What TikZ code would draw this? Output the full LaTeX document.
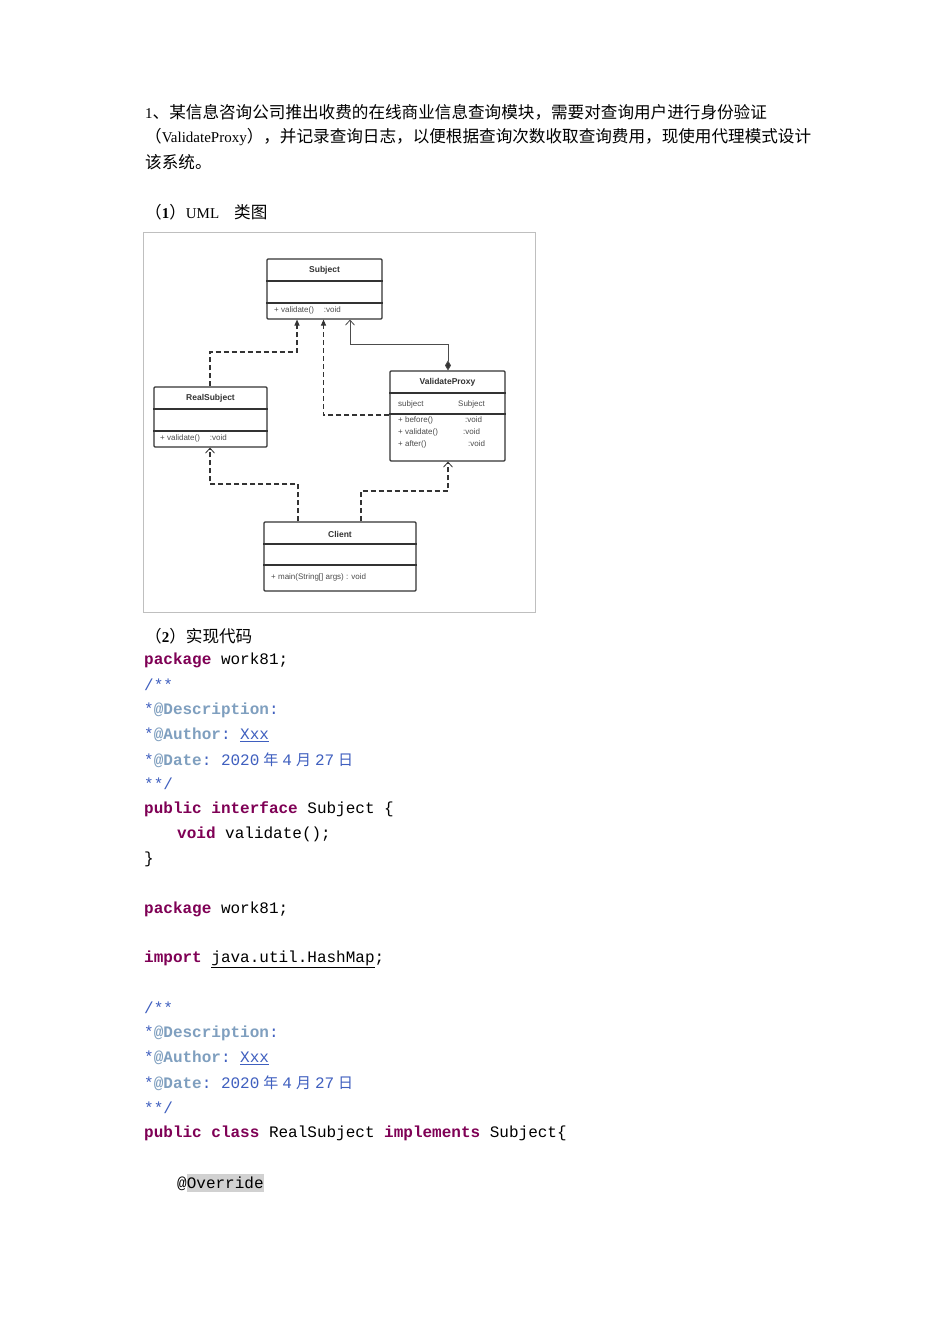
\documentclass[tikz,border=0pt]{standalone}
\usepackage{fontspec}
\setmainfont{Liberation Serif}
\setmonofont{Liberation Mono}
\newfontfamily\cjk{Noto Sans CJK SC}
\newfontfamily\umlfont{Liberation Sans}
\usetikzlibrary{arrows.meta,calc}
\definecolor{kw}{HTML}{7F0055}
\definecolor{jdoc}{HTML}{3F5FBF}
\definecolor{jtag}{HTML}{7F9FBF}
\newcommand{\kw}[1]{{\bfseries\color{kw}#1}}
\newcommand{\tg}[1]{{\bfseries\color{jtag}#1}}
\newcommand{\ulink}[1]{\underline{#1}}
\newcommand{\cj}[1]{\hspace{4pt}{\cjk\fontsize{15}{15}\selectfont #1}\hspace{4pt}}
\tikzset{
  txt/.style={anchor=west,inner sep=0pt,font=\fontsize{15}{15}\selectfont},
  code/.style={anchor=west,inner sep=0pt,font=\ttfamily\fontsize{16}{16}\selectfont},
  umlbox/.style={draw=black!80,line width=1.1pt,rounded corners=1pt,inner sep=0pt},
  umltxt/.style={anchor=west,inner sep=0pt,font=\umlfont\fontsize{8}{8}\selectfont,text=black!70},
  umlhead/.style={inner sep=0pt,font=\umlfont\bfseries\fontsize{8.5}{8.5}\selectfont,text=black!80},
  rel/.style={draw=black!80,line width=1.1pt,dash pattern=on 5pt off 3pt},
  openhead/.style={-{Straight Barb[length=5pt,width=9pt,line width=0.8pt]}},
  fullhead/.style={-{Triangle[length=6pt,width=5pt]}}
}
\begin{document}
\begin{tikzpicture}[x=1pt,y=-1pt]
 \useasboundingbox[fill=white] (0,0) rectangle (950,1344);

 % task text
 \node[txt] at (145,112) {1{\cjk\fontsize{16.6}{16.6}\selectfont 、某信息咨询公司推出收费的在线商业信息查询模块，需要对查询用户进行身份验证}};
 \node[txt] at (145,137) {{\cjk\fontsize{16.6}{16.6}\selectfont （}ValidateProxy{\cjk\fontsize{16.6}{16.6}\selectfont ），并记录查询日志，以便根据查询次数收取查询费用，现使用代理模式设计}};
 \node[txt] at (145,162) {{\cjk\fontsize{16.6}{16.6}\selectfont 该系统。}};
 \node[txt] at (145,212) {{\cjk\fontsize{16.6}{16.6}\selectfont （}\textbf{1}{\cjk\fontsize{16.6}{16.6}\selectfont ）}UML\quad{\cjk\fontsize{16.6}{16.6}\selectfont 类图}};

 % uml frame
 \draw[black!25,line width=1pt] (143,232) rectangle (535,612);

 % classes
 \node[umlbox,minimum width=115pt,minimum height=60pt] (subj) at (324.5,289) {};
 \node[umlbox,minimum width=113pt,minimum height=60pt] (real) at (210.5,417) {};
 \node[umlbox,minimum width=115pt,minimum height=90pt] (proxy) at (447.5,416) {};
 \node[umlbox,minimum width=152pt,minimum height=69pt] (client) at (340,556.5) {};

 \draw[black!80,line width=1.1pt] (subj.west|-0,281) -- (subj.east|-0,281) (subj.west|-0,303) -- (subj.east|-0,303);
 \draw[black!80,line width=1.1pt] (real.west|-0,409) -- (real.east|-0,409) (real.west|-0,431) -- (real.east|-0,431);
 \draw[black!80,line width=1.1pt] (proxy.west|-0,393) -- (proxy.east|-0,393) (proxy.west|-0,414) -- (proxy.east|-0,414);
 \draw[black!80,line width=1.1pt] (client.west|-0,544) -- (client.east|-0,544) (client.west|-0,565) -- (client.east|-0,565);

 \node[umlhead] (subjname) at (324.5,270) {Subject};
 \node[umltxt] (subjop) at (274,310) {+ validate()\hspace{10pt}:void};
 \node[umlhead] (realname) at (210.5,398) {RealSubject};
 \node[umltxt] (realop) at (160,438) {+ validate()\hspace{10pt}:void};
 \node[umlhead] (proxyname) at (447.5,382) {ValidateProxy};
 \node[umltxt] (proxyattr) at (398,404) {subject};
 \node[umltxt] (proxytype) at (458,404) {Subject};
 \node[umltxt] (proxyop1) at (398,420) {+ before()};
 \node[umltxt] (proxyop2) at (398,432) {+ validate()};
 \node[umltxt] (proxyop3) at (398,444) {+ after()};
 \node[umltxt] (proxyv1) at (465,420) {:void};
 \node[umltxt] (proxyv2) at (463,432) {:void};
 \node[umltxt] (proxyv3) at (468,444) {:void};
 \node[umlhead] (clientname) at (340,534) {Client};
 \node[umltxt] (clientop) at (271,577) {+ main(String[] args) : void};

 % relations
 \coordinate (a1) at (210,352); \coordinate (a2) at (297,352);
 \draw[rel,fullhead] (real.north-|a1) -- (a1) -- (a2) -- (a2|-subj.south);
 \coordinate (b1) at (323.5,415);
 \draw[rel,fullhead] (proxy.west|-b1) -- (b1) -- (b1|-subj.south);
 \coordinate (c1) at (448,344); \coordinate (c2) at (350,344);
 \draw[black!70,line width=0.8pt,{Diamond[length=10pt,width=6pt,fill=black!80]}-{Straight Barb[length=5pt,width=9pt,line width=0.8pt]}]
   (proxy.north-|c1) -- (c1) -- (c2) -- (c2|-subj.south);
 \coordinate (d1) at (298,484); \coordinate (d2) at (210,484);
 \draw[rel,openhead] (client.north-|d1) -- (d1) -- (d2) -- (d2|-real.south);
 \coordinate (e1) at (361,491); \coordinate (e2) at (448,491);
 \draw[rel,openhead] (client.north-|e1) -- (e1) -- (e2) -- (e2|-proxy.south);

 % code
 \node[txt] at (145,636) {{\cjk\fontsize{16.6}{16.6}\selectfont （}\textbf{2}{\cjk\fontsize{16.6}{16.6}\selectfont ）实现代码}};
 \node[code] at (144,660) {\kw{package} work81;};
 \node[code,text=jdoc] at (144,685) {/**};
 \node[code,text=jdoc] at (144,710) {*\tg{@Description}:};
 \node[code,text=jdoc] at (144,735) {*\tg{@Author}: \ulink{Xxx}};
 \node[code,text=jdoc] at (144,760) {*\tg{@Date}: 2020\cj{年}4\cj{月}27\cj{日}};
 \node[code,text=jdoc] at (144,784) {**/};
 \node[code] at (144,809) {\kw{public} \kw{interface} Subject \{};
 \node[code] at (177,834) {\kw{void} validate();};
 \node[code] at (144,859) {\}};
 \node[code] at (144,909) {\kw{package} work81;};
 \node[code] at (144,959) {\kw{import} \ulink{java.util.HashMap};};
 \node[code,text=jdoc] at (144,1008) {/**};
 \node[code,text=jdoc] at (144,1033) {*\tg{@Description}:};
 \node[code,text=jdoc] at (144,1058) {*\tg{@Author}: \ulink{Xxx}};
 \node[code,text=jdoc] at (144,1083) {*\tg{@Date}: 2020\cj{年}4\cj{月}27\cj{日}};
 \node[code,text=jdoc] at (144,1108) {**/};
 \node[code] at (144,1133) {\kw{public} \kw{class} RealSubject \kw{implements} Subject\{};
 \node[code] at (177,1183) {@\colorbox{black!18}{\hspace{-3pt}Override\hspace{-3pt}}};
\end{tikzpicture}
\end{document}
